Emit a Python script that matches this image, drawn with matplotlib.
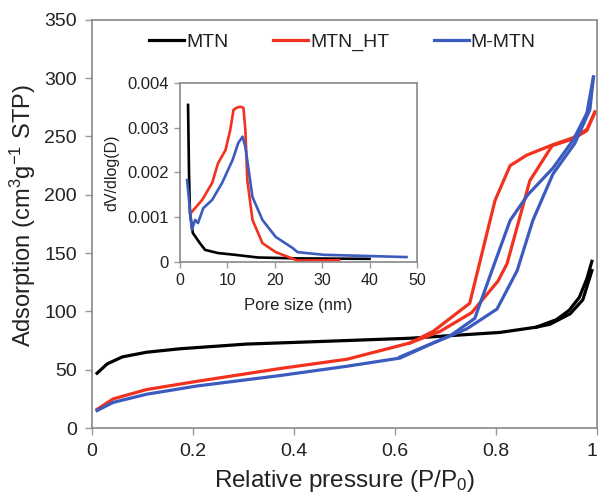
import matplotlib
matplotlib.use("Agg")
import matplotlib.pyplot as plt
from matplotlib.ticker import FuncFormatter

plt.rcParams['font.family'] = ['Liberation Sans', 'DejaVu Sans']
plt.rcParams['mathtext.default'] = 'regular'

# ---- main isotherm data (P/P0, adsorbed volume) ----
mtn_ads_p = [0.01, 0.03, 0.06, 0.108, 0.175, 0.306, 0.438, 0.63, 0.808, 0.88, 0.907, 0.947, 0.972, 0.99]
mtn_ads_v = [47, 55, 61, 65, 68, 72, 74, 77, 82, 86.5, 89, 98, 110, 135]
mtn_des_p = [0.99, 0.98, 0.965, 0.945, 0.92, 0.88]
mtn_des_v = [143, 128, 112, 101, 93, 86.5]

ht_ads_p = [0.01, 0.042, 0.108, 0.207, 0.372, 0.505, 0.63, 0.69, 0.752, 0.804, 0.822, 0.867, 0.911, 0.953, 0.98, 0.996]
ht_ads_v = [16, 25, 33, 40, 51, 59, 73, 83, 99, 126, 141, 212, 242, 248, 255, 271]
ht_des_p = [0.996, 0.98, 0.953, 0.913, 0.861, 0.828, 0.798, 0.748, 0.676, 0.63]
ht_des_v = [271, 256, 249, 243, 234, 225, 195, 107, 83, 73]

mm_ads_p = [0.01, 0.042, 0.108, 0.207, 0.372, 0.505, 0.61, 0.676, 0.742, 0.802, 0.842, 0.873, 0.913, 0.956, 0.986, 0.993]
mm_ads_v = [15, 22, 29, 36, 45, 53, 60, 73, 85, 102, 135, 178, 218, 244, 273, 301]
mm_des_p = [0.993, 0.98, 0.953, 0.913, 0.863, 0.828, 0.792, 0.758, 0.709, 0.61]
mm_des_v = [301, 270, 247, 223, 200, 178, 135, 94, 79, 61]

# ---- inset pore size distribution data (nm, dV/dlog(D)) ----
mtn_d = [1.7, 1.9, 2.1, 2.7, 4.2, 5.3, 8.0, 11.6, 16.5, 25, 40]
mtn_psd = [0.00351, 0.0020, 0.0011, 0.00065, 0.00042, 0.00027, 0.0002, 0.00016, 0.0001, 0.00008, 0.00007]

ht_d = [2.5, 4.7, 6.8, 8.0, 9.6, 10.6, 11.3, 12.0, 12.8, 13.4, 13.8, 14.2, 15.3, 17.4, 20.2, 23.4, 24.8, 33.6]
ht_psd = [0.00112, 0.00139, 0.00177, 0.0022, 0.0025, 0.00295, 0.0034, 0.00345, 0.00347, 0.00344, 0.00295,
          0.00183, 0.00094, 0.00042, 0.00022, 0.00009, 0.00003, 0.00004]

mm_d = [1.5, 2.5, 3.2, 3.8, 4.9, 6.8, 8.9, 11.1, 12.3, 13.2, 13.8, 15.3, 17.4, 20.2, 23.8, 24.8, 30.4, 47.8]
mm_psd = [0.00183, 0.00072, 0.00094, 0.00087, 0.0012, 0.00139, 0.00177, 0.00228, 0.00266, 0.0028, 0.00257,
          0.00145, 0.00094, 0.00056, 0.00031, 0.00022, 0.00016, 0.00011]

labels = ['MTN', 'MTN_HT', 'M-MTN']
colors = ['#000000', '#f2311f', '#3b5bbf']

x_ticks = [0, 0.2, 0.4, 0.6, 0.8, 1.0]
y_ticks = [0, 50, 100, 150, 200, 250, 300, 350]
inset_x_ticks = [0, 10, 20, 30, 40, 50]
inset_y_ticks = [0, 0.001, 0.002, 0.003, 0.004]

fig = plt.figure(figsize=(5.99, 4.96), dpi=100)
ax = fig.add_axes([0.1536, 0.137, 0.843, 0.823])

lw = 2.3
ax.plot(mtn_ads_p, mtn_ads_v, color=colors[0], lw=lw, label=labels[0])
ax.plot(mtn_des_p, mtn_des_v, color=colors[0], lw=lw)
ax.plot(ht_ads_p, ht_ads_v, color=colors[1], lw=lw, label=labels[1])
ax.plot(ht_des_p, ht_des_v, color=colors[1], lw=lw)
ax.plot(mm_ads_p, mm_ads_v, color=colors[2], lw=lw, label=labels[2])
ax.plot(mm_des_p, mm_des_v, color=colors[2], lw=lw)

ax.set_xlim(0, 1)
ax.set_ylim(0, 350)
ax.set_xticks(x_ticks)
ax.set_yticks(y_ticks)
ax.xaxis.set_major_formatter(FuncFormatter(lambda v, p: ('%g' % v)))
text_color = '#222222'
ax.tick_params(direction='out', length=5, width=1, color='#999999', labelsize=14, labelcolor=text_color, pad=6)
for s in ax.spines.values():
    s.set_color('#888888')
    s.set_linewidth(1.2)
ax.set_xlabel('Relative pressure (P/P$_0$)', fontsize=17.5, color=text_color)
ax.xaxis.set_label_coords(0.5, -0.098)
ax.set_ylabel('Adsorption (cm$^3$g$^{-1}$ STP)', fontsize=17, color=text_color)
ax.yaxis.set_label_coords(-0.106, 0.52)
# keep the last x tick label inside the canvas
fig.canvas.draw()
xt = ax.get_xticklabels()
xt[-1].set_horizontalalignment('right')
xt[-1].set_x(1.0)

leg = ax.legend(loc='center', bbox_to_anchor=(0.496, 0.946), ncol=3, frameon=False, fontsize=14,
                handlelength=1.8, handletextpad=0.1, columnspacing=2.3)
for t in leg.get_texts():
    t.set_color(text_color)

# ---- inset ----
ins = fig.add_axes([0.3005, 0.4718, 0.3955, 0.3609])
ilw = 1.9
ins.plot(mtn_d, mtn_psd, color=colors[0], lw=ilw)
ins.plot(ht_d, ht_psd, color=colors[1], lw=ilw)
ins.plot(mm_d, mm_psd, color=colors[2], lw=ilw)
ins.set_xlim(0, 50)
ins.set_ylim(0, 0.004)
ins.set_xticks(inset_x_ticks)
ins.set_yticks(inset_y_ticks)
ins.yaxis.set_major_formatter(FuncFormatter(lambda v, p: ('%g' % round(v, 4))))
ins.tick_params(direction='out', length=4, width=1, color='#999999', labelcolor=text_color, pad=4)
ins.tick_params(axis='y', labelsize=12)
ins.tick_params(axis='x', labelsize=11.5)
for s in ins.spines.values():
    s.set_color('#888888')
    s.set_linewidth(1.2)
ins.set_xlabel('Pore size (nm)', fontsize=12, color=text_color, labelpad=7)
ins.set_ylabel('dV/dlog(D)', fontsize=11.5, color=text_color, labelpad=6)

fig.savefig('out.png', dpi=100)
